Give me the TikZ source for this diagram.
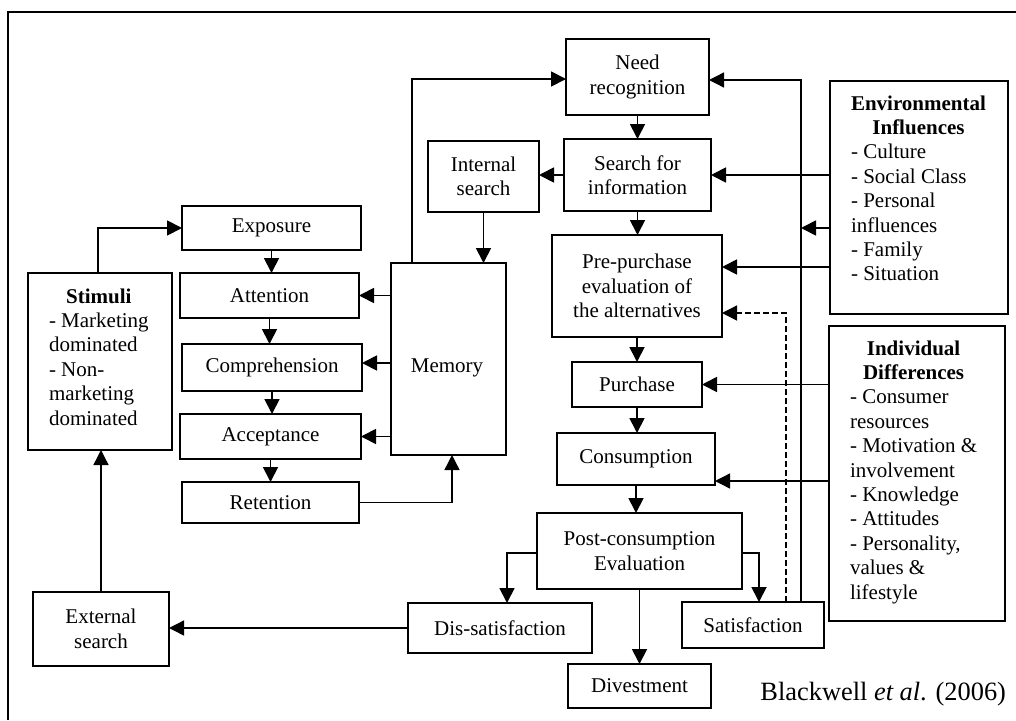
\documentclass[tikz,border=0pt]{standalone}
\usepackage{fontspec}
\setmainfont{Liberation Serif}
\usetikzlibrary{arrows.meta}
\newcommand\diagfont{\fontsize{21}{24.4}\selectfont}
\begin{document}
\begin{tikzpicture}[x=1pt,y=-1pt,
  box/.style={draw, line width=1.4pt, inner sep=0pt, outer sep=0pt,
              align=center, font=\diagfont},
  plain/.style={inner sep=0pt, outer sep=0pt, font=\diagfont},
  arr/.style={line width=1.8pt, -{Triangle[length=15pt,width=15pt]}},
  thinarr/.style={line width=1.4pt, -{Triangle[length=15pt,width=15pt]}},
  dashedarr/.style={line width=1.4pt, dash pattern=on 6pt off 3pt,
                    -{Triangle[length=15pt,width=15pt]}}]
\useasboundingbox (0,0) rectangle (1016,720);
% outer frame (left and top edges)
\draw[line width=1.4pt] (8,720) -- (8,12) -- (1016,12);

% decision process
\node[box, minimum width=143pt, minimum height=76pt] (need) at (637.5,77) {Need\\recognition};
\node[box, minimum width=147pt, minimum height=72pt] (search) at (637.5,175) {Search for\\information};
\node[box, minimum width=111pt, minimum height=71pt] (internal) at (483.5,176.5) {Internal\\search};
\node[box, minimum width=170pt, minimum height=102pt] (pre) at (637,286) {Pre-purchase\\evaluation of\\the alternatives};
\node[box, minimum width=130pt, minimum height=45pt] (purchase) at (637,384.5) {Purchase};
\node[box, minimum width=158pt, minimum height=52pt] (consumption) at (636,459) {Consumption};
\node[box, minimum width=205pt, minimum height=76pt] (post) at (639.5,551) {Post-consumption\\Evaluation};
\node[box, minimum width=142pt, minimum height=46pt] (sat) at (753,625) {Satisfaction};
\node[box, minimum width=143pt, minimum height=44pt] (divest) at (639.5,686) {Divestment};
\node[box, minimum width=184pt, minimum height=50pt] (dissat) at (500,628) {Dis-satisfaction};
\node[box, minimum width=136pt, minimum height=74pt] (external) at (101,629) {External\\search};

% information processing
\node[box, minimum width=144pt, minimum height=177pt] (stimuli) at (100,361.5) {};
\node[plain, anchor=base west] (stimulitext) at (49,303)
  {\begin{tabular}[t]{@{}l@{}}\multicolumn{1}{@{}c@{}}{\textbf{Stimuli}}\\- Marketing\\dominated\\- Non-\\marketing\\dominated\end{tabular}};
\node[box, minimum width=179pt, minimum height=44pt] (exposure) at (271.5,228) {Exposure};
\node[box, minimum width=179pt, minimum height=45pt] (attention) at (269.5,295.5) {Attention};
\node[box, minimum width=180pt, minimum height=47pt] (comprehension) at (272,367.5) {Comprehension};
\node[box, minimum width=181pt, minimum height=45pt] (acceptance) at (270.5,436.5) {Acceptance};
\node[box, minimum width=177pt, minimum height=41pt] (retention) at (270.5,502.5) {Retention};
\node[box, minimum width=115pt, minimum height=192pt] (memory) at (448.5,359) {};
\node[plain, anchor=base] (memorytext) at (447,372) {Memory};

% influences
\node[box, minimum width=178pt, minimum height=233pt] (env) at (919,197.5) {};
\node[plain, anchor=base west] (envtext) at (851,110)
  {\begin{tabular}[t]{@{}l@{}}\multicolumn{1}{@{}c@{}}{\textbf{Environmental}}\\\multicolumn{1}{@{}c@{}}{\textbf{Influences}}\\- Culture\\- Social Class\\- Personal\\influences\\- Family\\- Situation\end{tabular}};
\node[box, minimum width=176pt, minimum height=295pt] (ind) at (917,473.5) {};
\node[plain, anchor=base west] (indtext) at (850,355)
  {\begin{tabular}[t]{@{}l@{}}\multicolumn{1}{@{}c@{}}{\textbf{Individual}}\\\multicolumn{1}{@{}c@{}}{\textbf{Differences}}\\- Consumer\\resources\\- Motivation \&\\involvement\\- Knowledge\\- Attitudes\\- Personality,\\values \&\\lifestyle\end{tabular}};

\node[plain, anchor=base east, font=\fontsize{26.4}{30}\selectfont] (source) at (1006,700)
  {Blackwell \textit{et al}. (2006)};

% main flow
\draw[arr] (need.south) -- (search.north);
\draw[arr] (search.south) -- (search.south |- pre.north);
\draw[arr] (pre.south) -- (purchase.north);
\draw[arr] (purchase.south) -- (purchase.south |- consumption.north);
\draw[arr] (consumption.south) -- (consumption.south |- post.north);
\draw[arr] (post.south) -- (divest.north);
\draw[arr] ([yshift=-2pt]post.west) -| ([xshift=7pt]dissat.north);
\draw[arr] ([yshift=-2pt]post.east) -| ([xshift=6pt]sat.north);
\draw[arr] (search.west) -- (internal.east |- search.west);
\draw[arr] (internal.south) -- (internal.south |- memory.north);

% feedback from satisfaction
\draw[thinarr] ([xshift=48pt]sat.north) |- ([yshift=-3pt]need.east);
\draw[dashedarr] ([xshift=33pt]sat.north) |- ([yshift=-27pt]pre.east);

% information processing flow
\draw[arr] (stimuli.north -| 98,0) |- (exposure.west);
\draw[arr] (exposure.south) -- (exposure.south |- attention.north);
\draw[arr] (attention.south) -- (attention.south |- comprehension.north);
\draw[arr] (comprehension.south) -- (comprehension.south |- acceptance.north);
\draw[arr] (acceptance.south) -- (acceptance.south |- retention.north);
\draw[thinarr] (retention.east) -| ([xshift=3.5pt]memory.south);
\draw[arr] (memory.west |- attention.east) -- (attention.east);
\draw[arr] ([yshift=4.5pt]memory.west |- comprehension.east) -- ([yshift=4.5pt]comprehension.east);
\draw[arr] (memory.west |- acceptance.east) -- (acceptance.east);
\draw[arr] ([xshift=-36.5pt]memory.north) |- ([yshift=-2pt]need.west);

% search loop
\draw[thinarr] (dissat.west) -- (dissat.west -| external.east);
\draw[thinarr] (external.north) -- (external.north |- stimuli.south);

% environmental influences
\coordinate (tap) at (801,228);
\draw[arr] (env.west |- search.east) -- (search.east);
\draw[arr] (env.west |- tap) -- (tap);
\draw[arr] ([yshift=19pt]pre.east -| env.west) -- ([yshift=19pt]pre.east);

% individual differences
\draw[arr] (ind.west |- purchase.east) -- (purchase.east);
\draw[thinarr] ([yshift=-22pt]consumption.east -| ind.west) -- ([yshift=-22pt]consumption.east);
\end{tikzpicture}
\end{document}
